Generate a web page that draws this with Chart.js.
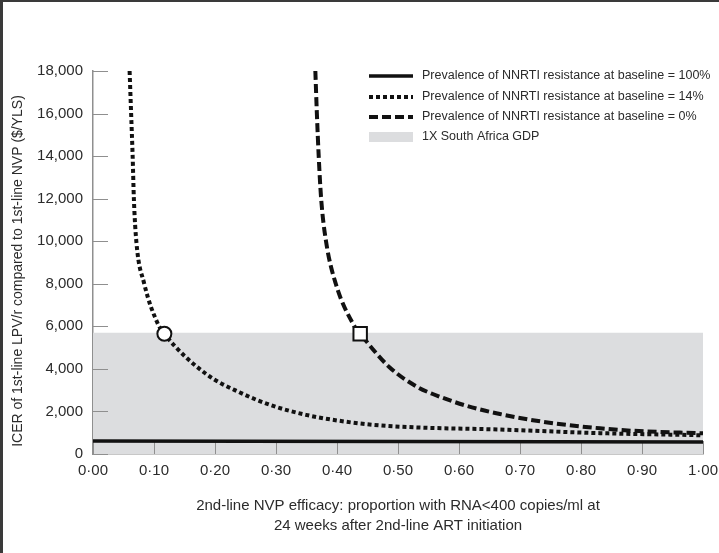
<!DOCTYPE html>
<html>
<head>
<meta charset="utf-8">
<script src="https://cdn.jsdelivr.net/npm/chart.js@4.4.1/dist/chart.umd.min.js"></script>
<style>
  html, body { margin: 0; padding: 0; background: #fff; }
  canvas { display: block; }
</style>
</head>
<body>
<canvas id="icer-chart" width="719" height="553"></canvas>
<script>
// series names (legend order)
const seriesNames = [
  'Prevalence of NNRTI resistance at baseline = 100%',
  'Prevalence of NNRTI resistance at baseline = 14%',
  'Prevalence of NNRTI resistance at baseline = 0%'
];
const gdpLabel = '1X South Africa GDP';
const gdpValue = 5700;
const yTitle = 'ICER of 1st-line LPV/r compared to 1st-line NVP ($/YLS)';

const xTickLabels = ['0·00', '0·10', '0·20', '0·30', '0·40', '0·50', '0·60', '0·70', '0·80', '0·90', '1·00'];

// 100% resistance
const solidX = [0, 1];
const solidY = [610, 560];

// 14% resistance
const dottedX = [0.060, 0.0625, 0.065, 0.067, 0.071, 0.084, 0.105, 0.117, 0.185, 0.24, 0.294, 0.349, 0.404, 0.459, 0.53, 0.667, 0.831, 1.0];
const dottedY = [18000, 16000, 14000, 12000, 10000, 8000, 6200, 5650, 3770, 2900, 2270, 1840, 1560, 1370, 1250, 1150, 980, 880];

// 0% resistance
const dashedX = [0.3645, 0.367, 0.370, 0.374, 0.382, 0.398, 0.4286, 0.438, 0.486, 0.533, 0.557, 0.612, 0.667, 0.721, 0.776, 0.831, 0.886, 1.0];
const dashedY = [18000, 16000, 14000, 12000, 10000, 8000, 6000, 5650, 4080, 3130, 2820, 2270, 1880, 1590, 1370, 1210, 1090, 970];

// crossing points with GDP threshold
const circleMarker = [0.117, 5650];
const squareMarker = [0.438, 5650];

const FONT = "'Liberation Sans', Arial, sans-serif";
const TEXT = '#2b2b2b';
const AXIS = '#8f8f8f';

const toPoints = (xs, ys) => xs.map((x, i) => ({ x: x, y: ys[i] }));

// ticks in this figure point into the plot, so draw them by hand
const inwardTicks = {
  id: 'inwardTicks',
  afterDatasetDraw(chart, args) {
    if (args.index !== 0) return; // right after the grey band
    const { ctx, chartArea: a, scales: { x, y } } = chart;
    ctx.save();
    ctx.strokeStyle = AXIS;
    ctx.lineWidth = 1;
    ctx.beginPath();
    y.ticks.forEach(t => {
      const py = Math.round(y.getPixelForValue(t.value)) + 0.5;
      ctx.moveTo(a.left, py);
      ctx.lineTo(a.left + 15, py);
    });
    x.ticks.forEach(t => {
      const px = Math.round(x.getPixelForValue(t.value)) + 0.5;
      ctx.moveTo(px, a.bottom);
      ctx.lineTo(px, a.bottom - 13);
    });
    ctx.stroke();
    ctx.restore();
  }
};

// legend sits inside the plot, top right; y title drawn here too
const legendBox = {
  id: 'legendBox',
  afterDraw(chart) {
    const ctx = chart.ctx;
    const rows = [76, 97, 117, 137];
    const sx0 = 369, sx1 = 413, tx = 422;
    const ds = chart.data.datasets;
    const order = [1, 2, 3, 0];
    ctx.save();
    ctx.font = '12.5px ' + FONT;
    ctx.textBaseline = 'middle';
    order.forEach((di, r) => {
      const d = ds[di];
      const yy = rows[r];
      if (di === 0) {
        ctx.fillStyle = d.backgroundColor;
        ctx.fillRect(sx0, yy - 5, sx1 - sx0, 10);
      } else {
        ctx.strokeStyle = d.borderColor;
        ctx.lineWidth = d.borderWidth;
        ctx.setLineDash(d.borderDash || []);
        ctx.beginPath();
        ctx.moveTo(sx0, yy);
        ctx.lineTo(sx1, yy);
        ctx.stroke();
        ctx.setLineDash([]);
      }
      ctx.fillStyle = TEXT;
      ctx.fillText(d.label, tx, yy);
    });

    // y axis title
    ctx.save();
    ctx.translate(18, 271);
    ctx.rotate(-Math.PI / 2);
    ctx.font = '14px ' + FONT;
    ctx.textAlign = 'center';
    ctx.fillStyle = TEXT;
    ctx.fillText(yTitle, 0, 0);
    ctx.restore();

    // frame edge from the scanned figure
    ctx.fillStyle = '#3a3a3a';
    ctx.fillRect(0, 0, 3, chart.height);
    ctx.fillRect(0, 0, chart.width, 2);
    ctx.restore();
  }
};

new Chart(document.getElementById('icer-chart'), {
  type: 'line',
  data: {
    datasets: [
      {
        label: gdpLabel,
        data: toPoints([0, 1], [gdpValue, gdpValue]),
        borderWidth: 0,
        borderColor: 'rgba(0,0,0,0)',
        backgroundColor: '#dcdddf',
        fill: 'origin',
        pointRadius: 0,
        order: 10
      },
      {
        label: seriesNames[0],
        data: toPoints(solidX, solidY),
        borderColor: '#111',
        borderWidth: 3.5,
        pointRadius: 0,
        fill: false,
        order: 3
      },
      {
        label: seriesNames[1],
        data: toPoints(dottedX, dottedY),
        borderColor: '#111',
        borderWidth: 4,
        borderDash: [4, 3],
        cubicInterpolationMode: 'monotone',
        pointRadius: 0,
        fill: false,
        order: 2
      },
      {
        label: seriesNames[2],
        data: toPoints(dashedX, dashedY),
        borderColor: '#111',
        borderWidth: 4,
        borderDash: [9, 4],
        cubicInterpolationMode: 'monotone',
        pointRadius: 0,
        fill: false,
        order: 1
      },
      {
        label: 'circle',
        data: [{ x: circleMarker[0], y: circleMarker[1] }],
        showLine: false,
        pointStyle: 'circle',
        pointRadius: 7,
        pointBorderWidth: 2,
        pointBorderColor: '#111',
        pointBackgroundColor: '#fff',
        order: 0
      },
      {
        label: 'square',
        data: [{ x: squareMarker[0], y: squareMarker[1] }],
        showLine: false,
        pointStyle: 'rect',
        pointRadius: 9.5,
        pointBorderWidth: 2,
        pointBorderColor: '#111',
        pointBackgroundColor: '#fff',
        order: 0
      }
    ]
  },
  options: {
    responsive: false,
    animation: false,
    layout: { padding: { top: 71, right: 16, bottom: 17, left: 0 } },
    plugins: {
      legend: { display: false },
      tooltip: { enabled: false }
    },
    scales: {
      x: {
        type: 'linear',
        min: 0,
        max: 1,
        ticks: {
          stepSize: 0.1,
          padding: 8,
          color: TEXT,
          font: { family: FONT, size: 15 },
          callback: (v, i) => xTickLabels[i]
        },
        grid: { drawOnChartArea: false, drawTicks: false },
        border: { display: true, color: AXIS, width: 1.5 },
        title: {
          display: true,
          text: [
            '2nd-line NVP efficacy: proportion with RNA<400 copies/ml at',
            '24 weeks after 2nd-line ART initiation'
          ],
          color: TEXT,
          font: { family: FONT, size: 15, lineHeight: 1.33 },
          padding: { top: 0, bottom: 0 }
        },
        afterFit: s => {
          s.height = 82;
          s.paddingLeft = 0;
          s.paddingRight = 0;
        }
      },
      y: {
        min: 0,
        max: 18000,
        ticks: {
          stepSize: 2000,
          padding: 10,
          color: TEXT,
          font: { family: FONT, size: 15 },
          callback: v => v.toLocaleString('en-US')
        },
        grid: { drawOnChartArea: false, drawTicks: false },
        border: { display: true, color: AXIS, width: 1.5 },
        afterFit: s => { s.width = 93; }
      }
    }
  },
  plugins: [inwardTicks, legendBox]
});
</script>
</body>
</html>
